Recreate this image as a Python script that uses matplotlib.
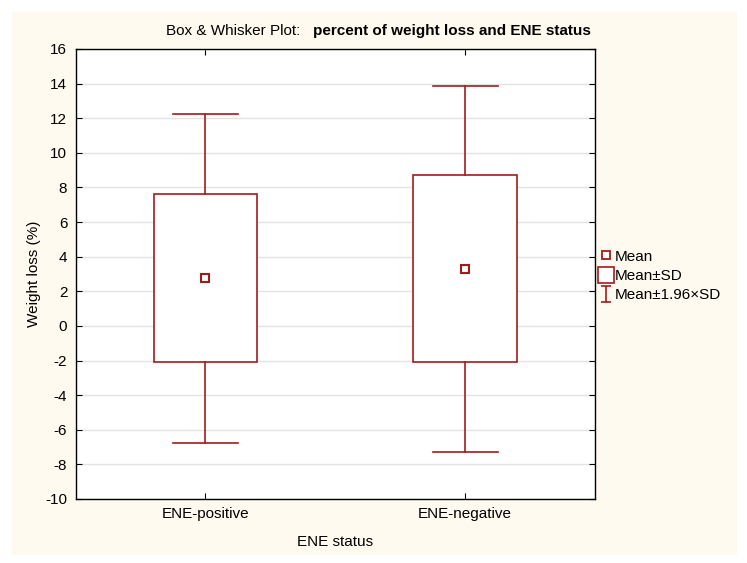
import matplotlib.pyplot as plt
from matplotlib.lines import Line2D
from matplotlib.path import Path
from matplotlib.patches import Rectangle

plt.rcParams["font.family"] = ["Liberation Sans", "DejaVu Sans"]
plt.rcParams["axes.unicode_minus"] = False

# data
groups = ["ENE-positive", "ENE-negative"]
means = [2.75, 3.3]
sds = [4.85, 5.4]
k = 1.96

RED = "#A01C1C"
CREAM = "#FEFAEF"
FS = 11

fig = plt.figure(figsize=(7.47, 5.63), dpi=100)
fig.patch.set_facecolor("white")
fig.patches.append(Rectangle((12 / 747, 8 / 563), 725 / 747, 543 / 563,
                             transform=fig.transFigure, facecolor=CREAM,
                             edgecolor="none", zorder=-10))

ax = fig.add_axes([0.1013, 0.1137, 0.6952, 0.7993])
ax.set_facecolor("white")

box_w = 0.4
cap_w = 0.25
for i, (m, s) in enumerate(zip(means, sds)):
    x = i + 1
    lo, hi = m - s, m + s
    wlo, whi = m - k * s, m + k * s
    ax.add_patch(Rectangle((x - box_w / 2, lo), box_w, hi - lo,
                           facecolor="white", edgecolor=RED, lw=1.2, zorder=3))
    ax.plot([x, x], [hi, whi], color=RED, lw=1.2, zorder=3)
    ax.plot([x, x], [wlo, lo], color=RED, lw=1.2, zorder=3)
    ax.plot([x - cap_w / 2, x + cap_w / 2], [whi, whi], color=RED, lw=1.2, zorder=3)
    ax.plot([x - cap_w / 2, x + cap_w / 2], [wlo, wlo], color=RED, lw=1.2, zorder=3)
    ax.plot([x], [m], marker="s", ms=6, mfc="white", mec=RED, mew=1.5, zorder=4)

ax.set_xlim(0.5, 2.5)
ax.set_ylim(-10, 16)
ax.set_yticks(range(-10, 17, 2))
ax.set_xticks([1, 2])
ax.set_xticklabels(groups)
ax.yaxis.grid(True, color="#E3E3E3", lw=1)
ax.set_axisbelow(True)
ax.tick_params(direction="in", top=True, right=True, labelsize=FS,
               length=4, width=0.8, pad=6)
for sp in ax.spines.values():
    sp.set_linewidth(1.0)
    sp.set_color("black")

ax.set_ylabel("Weight loss (%)", fontsize=FS, labelpad=3)
ax.set_xlabel("ENE status", fontsize=FS, labelpad=10)

fig.text(300 / 747, 1 - 31 / 563, "Box & Whisker Plot:", ha="right", va="center",
         fontsize=FS)
fig.text(313 / 747, 1 - 31 / 563, "percent of weight loss and ENE status",
         ha="left", va="center", fontsize=FS, fontweight="bold")

ibeam = Path([(-0.6, 1), (0.6, 1), (0, 1), (0, -1), (-0.6, -1), (0.6, -1)],
             [Path.MOVETO, Path.LINETO, Path.MOVETO, Path.LINETO,
              Path.MOVETO, Path.LINETO])
handles = [
    Line2D([], [], ls="none", marker="s", ms=6, mfc="white", mec=RED, mew=1.3),
    Line2D([], [], ls="none", marker="s", ms=11, mfc="white", mec=RED, mew=1.2),
    Line2D([], [], ls="none", marker=ibeam, ms=12, mfc="none", mec=RED, mew=1.2),
]
fig.legend(handles, ["Mean", "Mean\u00b1SD", "Mean\u00b11.96\u00d7SD"],
           loc="center left", bbox_to_anchor=(589 / 747, 1 - 276 / 563),
           frameon=False, fontsize=FS, handlelength=0.8, handletextpad=0.2,
           labelspacing=0.35, borderpad=0.2)

fig.savefig("out.png", dpi=100)
